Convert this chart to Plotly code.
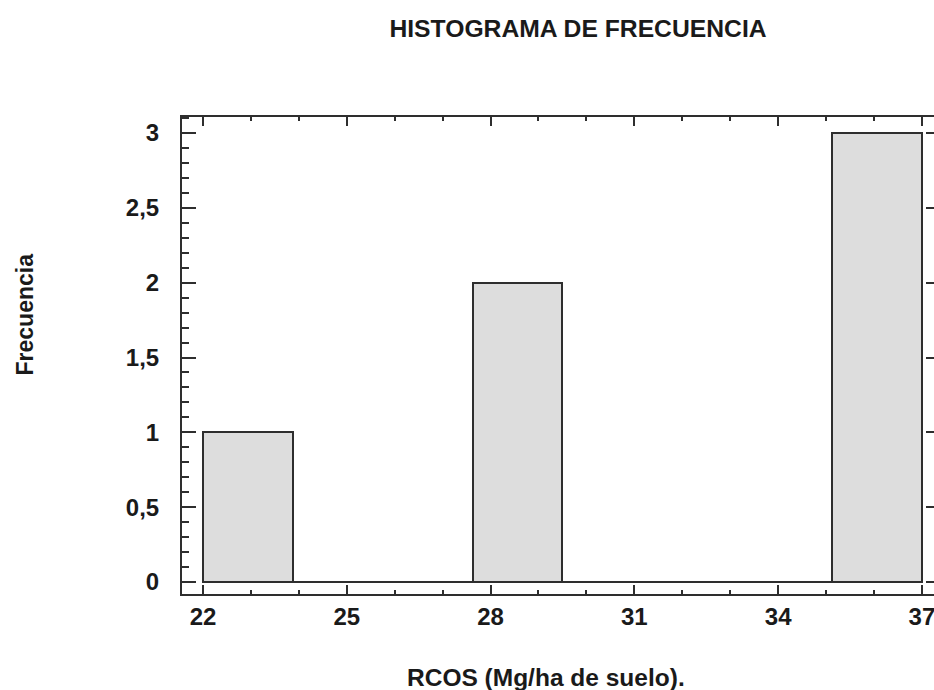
import plotly.graph_objects as go

# ---- data ----
bin_edges = [22, 23.875, 25.75, 27.625, 29.5, 31.375, 33.25, 35.125, 37]
counts = [1, 0, 0, 2, 0, 0, 0, 3]
x_ticks = [22, 25, 28, 31, 34, 37]
y_ticks = [0, 0.5, 1, 1.5, 2, 2.5, 3]
y_ticktext = ["0", "0,5", "1", "1,5", "2", "2,5", "3"]
title_text = "HISTOGRAMA DE FRECUENCIA"
x_title = "RCOS (Mg/ha de suelo)."
y_title = "Frecuencia"

centers = [(a + b) / 2 for a, b in zip(bin_edges[:-1], bin_edges[1:])]
widths = [b - a for a, b in zip(bin_edges[:-1], bin_edges[1:])]

FONT = "Liberation Sans, Arial, sans-serif"
LINE = "#2e2e2e"
TXT = "#1a1a1a"

fig = go.Figure()
fig.add_trace(go.Scatter(x=[bin_edges[0], bin_edges[-1]], y=[0, 0], mode="lines",
                         line=dict(color=LINE, width=2), hoverinfo="skip", showlegend=False))
fig.add_trace(go.Bar(x=centers, y=counts, width=widths,
                     marker=dict(color="#dddddd", line=dict(color=LINE, width=2)),
                     showlegend=False))
# invisible trace to carry the right-hand tick axis
fig.add_trace(go.Scatter(x=[bin_edges[0]], y=[0], yaxis="y2", mode="markers",
                         marker=dict(opacity=0), hoverinfo="skip", showlegend=False))

xr = [21.562, 37.252]
yr = [-0.0802, 3.107]

fig.update_layout(
    width=934, height=690,
    margin=dict(l=182, r=0, t=117, b=96),
    plot_bgcolor="white", paper_bgcolor="white",
    bargap=0,
    font=dict(family=FONT, color=TXT),
    xaxis=dict(range=xr, tickvals=x_ticks, ticks="inside", ticklen=9, tickwidth=2,
               tickcolor=LINE, showline=True, linecolor=LINE, linewidth=2, mirror="ticks",
               showgrid=False, zeroline=False, ticklabeloverflow="allow",
               tickfont=dict(family=FONT, size=24, color=TXT, weight="bold"),
               minor=dict(dtick=1, tick0=22, ticks="inside", ticklen=4, tickwidth=2,
                          tickcolor=LINE, showgrid=False)),
    yaxis=dict(range=yr, tickvals=y_ticks, ticktext=y_ticktext, ticks="inside", ticklen=14,
               tickwidth=2, tickcolor=LINE, showline=True, linecolor=LINE, linewidth=2,
               showgrid=False, zeroline=False, ticklabelstandoff=16,
               tickfont=dict(family=FONT, size=24, color=TXT, weight="bold"),
               minor=dict(dtick=0.1, tick0=0, ticks="inside", ticklen=7, tickwidth=2,
                          tickcolor=LINE, showgrid=False)),
    yaxis2=dict(range=yr, overlaying="y", side="right", anchor="x", tickvals=y_ticks,
                ticks="inside", ticklen=8, tickwidth=2, tickcolor=LINE,
                showticklabels=False, showline=False, showgrid=False, zeroline=False),
    title=dict(text=title_text, x=578 / 934, xanchor="center", y=1 - 28 / 690,
               yanchor="middle", font=dict(family=FONT, size=24.7, color=TXT, weight="bold")),
    annotations=[
        dict(text=x_title, xref="paper", yref="paper", x=(546 - 182) / 752,
             y=(594 - 677) / 477, xanchor="center", yanchor="middle", showarrow=False,
             font=dict(family=FONT, size=24.5, color=TXT, weight="bold")),
        dict(text=y_title, xref="paper", yref="paper", x=(24 - 182) / 752,
             y=(594 - 314.5) / 477, xanchor="center", yanchor="middle", showarrow=False,
             textangle=-90, font=dict(family=FONT, size=23, color=TXT, weight="bold")),
    ],
)

fig.write_html("out.html")
